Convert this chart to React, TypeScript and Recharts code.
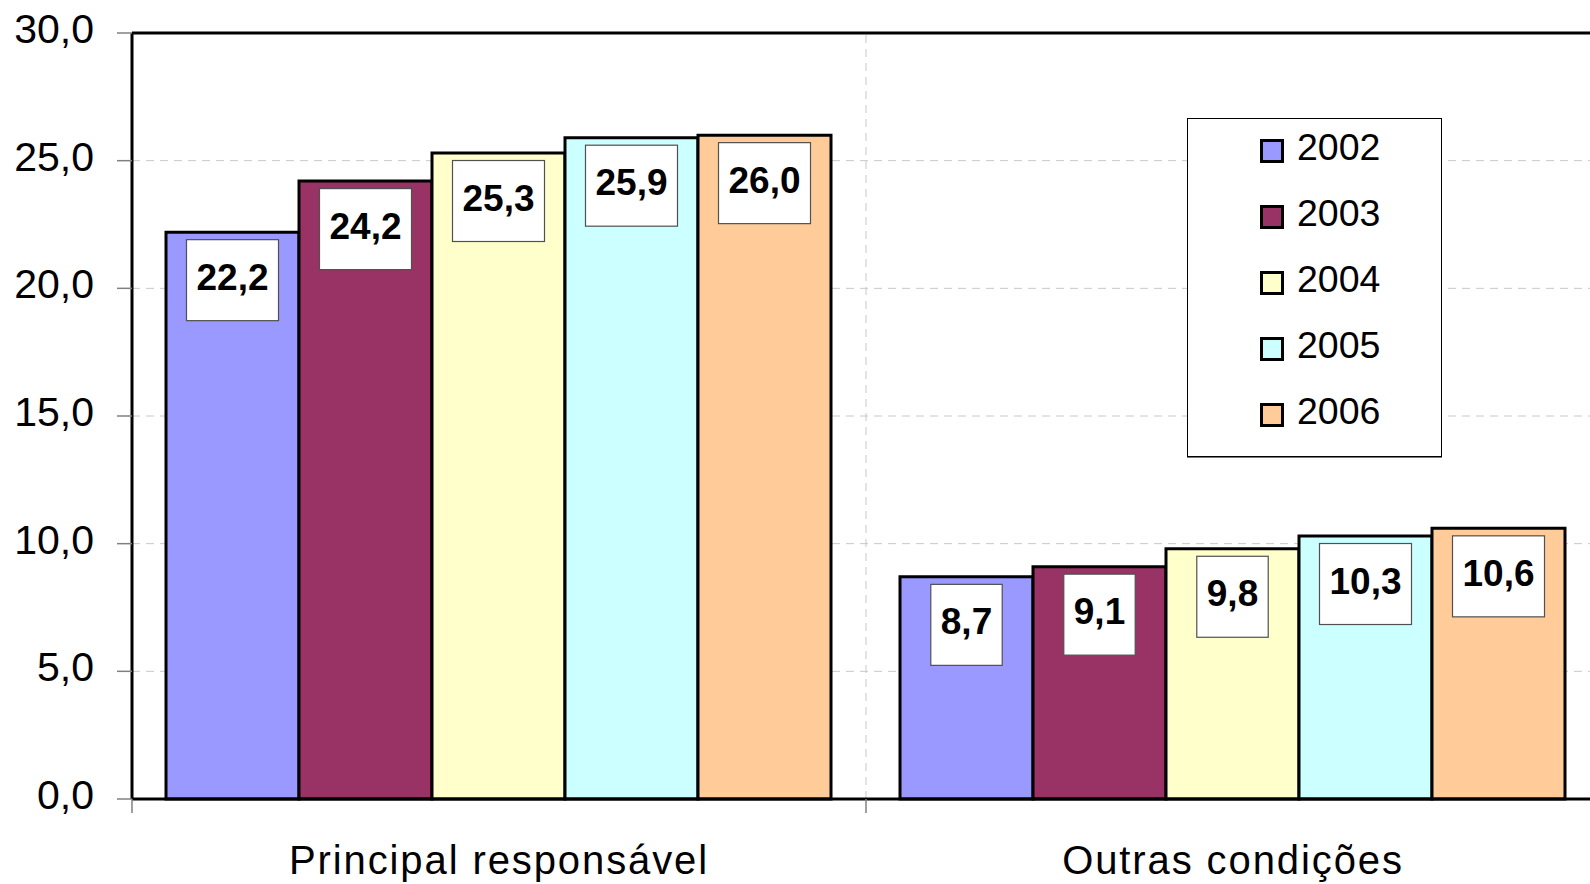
import {
  BarChart,
  Bar,
  XAxis,
  YAxis,
  CartesianGrid,
  Legend,
  LabelList,
  ReferenceLine,
} from "recharts";

const categories = ["Principal responsável", "Outras condições"];
const years = ["2002", "2003", "2004", "2005", "2006"];
const values2002 = [22.2, 8.7];
const values2003 = [24.2, 9.1];
const values2004 = [25.3, 9.8];
const values2005 = [25.9, 10.3];
const values2006 = [26.0, 10.6];
const yTicks = [0, 5, 10, 15, 20, 25, 30];
const colors = ["#9999FF", "#993366", "#FFFFCC", "#CCFFFF", "#FFCC99"];

const seriesValues = [values2002, values2003, values2004, values2005, values2006];

const data = categories.map((name, i) => {
  const row: Record<string, string | number> = { name };
  years.forEach((yr, s) => {
    row["y" + yr] = seriesValues[s][i];
  });
  return row;
});

const FONT = "'Liberation Sans', Arial, sans-serif";
const fmt = (v: number) => v.toFixed(1).replace(".", ",");

// white box with the bold value, hung just below the top of each bar
function ValueBox(props: any) {
  const { x, y, width, value } = props;
  if (value == null) return null;
  const text = fmt(Number(value));
  const fs = 37;
  const textW = text
    .split("")
    .reduce((acc, ch) => acc + (ch === "," ? 0.278 : 0.556) * fs, 0);
  const boxW = textW + 20;
  const boxH = 81;
  const cx = x + width / 2;
  const top = y + 7.5;
  return (
    <g>
      <rect
        x={cx - boxW / 2}
        y={top}
        width={boxW}
        height={boxH}
        fill="#ffffff"
        stroke="#505050"
        strokeWidth={1.2}
      />
      <text
        x={cx}
        y={top + 50}
        textAnchor="middle"
        fontFamily={FONT}
        fontWeight="bold"
        fontSize={fs}
        fill="#000"
      >
        {text}
      </text>
    </g>
  );
}

// category label + small tick at the left edge of each band
function XTick(props: any) {
  const { x, y, payload, width } = props;
  const half =
    payload && typeof payload.offset === "number" && payload.offset > 0
      ? payload.offset
      : width / categories.length / 2;
  return (
    <g>
      <line
        x1={x - half}
        x2={x - half}
        y1={y}
        y2={y + 14}
        stroke="#808080"
        strokeWidth={1.5}
      />
      <text
        x={x}
        y={y + 47}
        dy="0.71em"
        textAnchor="middle"
        fontFamily={FONT}
        fontSize={40}
        letterSpacing={1.9}
        fill="#000"
      >
        {payload.value}
      </text>
    </g>
  );
}

function YTick(props: any) {
  const { x, y, payload } = props;
  return (
    <text
      x={x}
      y={y + 10}
      textAnchor="end"
      fontFamily={FONT}
      fontSize={41}
      fill="#000"
    >
      {fmt(Number(payload.value))}
    </text>
  );
}

function LegendBox({ payload }: any) {
  return (
    <div
      style={{
        width: 255,
        height: 339,
        boxSizing: "border-box",
        border: "1px solid #000",
        boxShadow: "0 1px 0 #777",
        background: "#fff",
        fontFamily: FONT,
      }}
    >
      {(payload || []).map((entry: any) => (
        <div
          key={entry.value}
          style={{
            height: 66,
            display: "flex",
            alignItems: "center",
            position: "relative",
            top: -1,
          }}
        >
          <span
            style={{
              display: "inline-block",
              width: 24,
              height: 24,
              boxSizing: "border-box",
              marginLeft: 72,
              border: "3px solid #000",
              background: entry.color,
            }}
          />
          <span
            style={{
              marginLeft: 13,
              fontSize: 37.5,
              color: "#000",
              position: "relative",
              top: -4,
            }}
          >
            {entry.value}
          </span>
        </div>
      ))}
    </div>
  );
}

export default function App() {
  return (
    <div style={{ width: 1600, height: 884, overflow: "hidden" }}>
      <style>{`body{margin:0;overflow:hidden;background:#fff}`}</style>
      <BarChart
        width={1600}
        height={884}
        data={data}
        margin={{ top: 33, right: 0, left: 0, bottom: 0 }}
        barCategoryGap={34}
        barGap={0}
        style={{ fontFamily: FONT }}
      >
        <CartesianGrid
          vertical={false}
          strokeDasharray="8 6"
          stroke="#c8c8c8"
          strokeWidth={1}
        />
        <XAxis
          dataKey="name"
          interval={0}
          height={85}
          tickLine={false}
          tickSize={0}
          tickMargin={0}
          axisLine={{ stroke: "#000", strokeWidth: 3 }}
          tick={<XTick />}
        />
        <YAxis
          width={132}
          domain={[0, 30]}
          ticks={yTicks}
          interval={0}
          tickSize={15}
          tickMargin={23}
          tickLine={{ stroke: "#808080", strokeWidth: 1.5 }}
          axisLine={{ stroke: "#000", strokeWidth: 3 }}
          tick={<YTick />}
        />
        {/* dashed separator between the two categories */}
        <ReferenceLine
          x={categories[1]}
          position="start"
          stroke="#c8c8c8"
          strokeDasharray="8 6"
          strokeWidth={1}
        />
        <ReferenceLine y={30} stroke="#000" strokeWidth={3} />
        <Legend
          layout="horizontal"
          verticalAlign="middle"
          align="center"
          wrapperStyle={{ left: 1187, top: 118, width: 255, height: 339 }}
          content={<LegendBox />}
        />
        {years.map((yr, s) => (
          <Bar
            key={yr}
            dataKey={"y" + yr}
            name={yr}
            fill={colors[s]}
            stroke="#000"
            strokeWidth={3}
            isAnimationActive={false}
          >
            <LabelList dataKey={"y" + yr} content={<ValueBox />} />
          </Bar>
        ))}
      </BarChart>
    </div>
  );
}
